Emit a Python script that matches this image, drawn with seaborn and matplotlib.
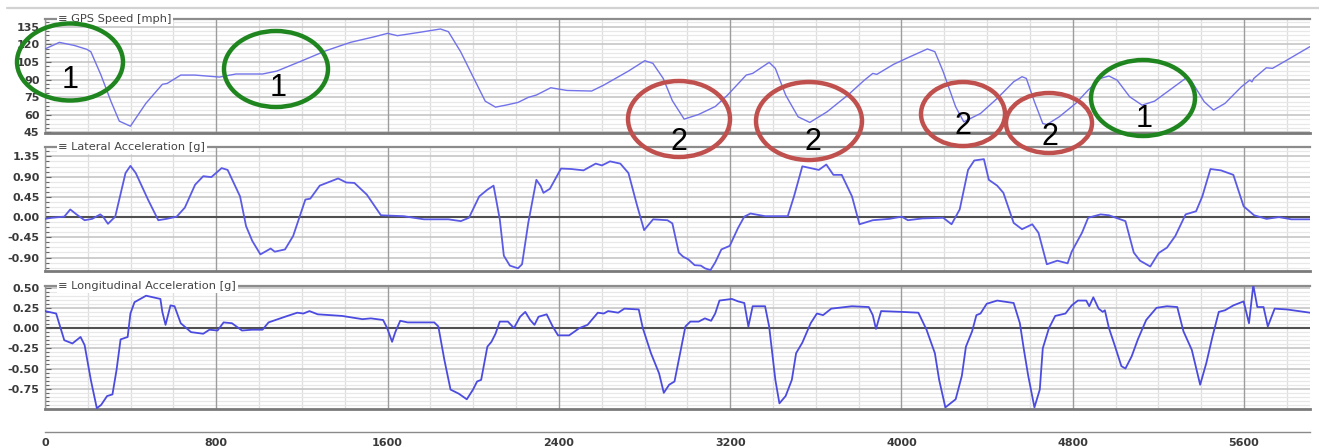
import matplotlib
matplotlib.use("Agg")
import matplotlib.pyplot as plt
from matplotlib.patches import Ellipse
from matplotlib.lines import Line2D
from matplotlib.ticker import MultipleLocator, FixedLocator
import seaborn as sns

# ---------------- data ----------------
speed_dist = [0, 67, 137, 195, 214, 261, 309, 347, 399, 471, 548, 571, 634, 700, 815, 892,
              1016, 1083, 1197, 1312, 1426, 1541, 1600, 1646, 1751, 1847, 1884, 1941, 1999,
              2056, 2104, 2152, 2209, 2257, 2295, 2362, 2438, 2553, 2610, 2725, 2801, 2839,
              2887, 2930, 2985, 3053, 3131, 3188, 3275, 3305, 3382, 3411, 3459, 3517, 3572,
              3653, 3750, 3827, 3866, 3885, 3963, 4040, 4121, 4156, 4195, 4253, 4291, 4369,
              4447, 4524, 4563, 4583, 4621, 4660, 4679, 4737, 4814, 4872, 4930, 4969, 5007,
              5066, 5124, 5182, 5259, 5327, 5356, 5414, 5457, 5511, 5588, 5627, 5637, 5646,
              5704, 5733, 5801, 5908]
speed_mph = [116, 121.6, 119, 115.7, 113.7, 94, 71, 54.6, 50.3, 69.7, 85.9, 86.7, 93.8, 93.8,
             92.1, 94.7, 94.7, 97.2, 105.7, 114.5, 121.6, 126.5, 129.3, 127.3, 130.2, 133,
             130.7, 113.7, 92.4, 71.6, 66.5, 68.2, 70.5, 74.8, 76.8, 83, 80.7, 80.2, 85.3,
             97.2, 106, 103.8, 91, 72, 56.3, 60.3, 67.1, 76.8, 93.8, 95.2, 104.6, 99.5, 76.8,
             58.3, 53.5, 62.6, 76.8, 89.5, 95.2, 94.4, 102.9, 109.4, 116, 113.7, 96.6, 66.8,
             54, 61.1, 73.9, 88.1, 92.4, 91, 71.1, 52.6, 51.7, 58.3, 69.7, 81, 91, 93, 89.5,
             75.3, 68.2, 71.6, 81.9, 91, 88.1, 71.1, 64, 69.7, 83.9, 89.5, 88, 91, 100, 99.5,
             106.6, 118]

lat_dist = [0, 32, 90, 118, 147, 185, 220, 258, 271, 294, 328, 347, 376, 399, 424, 481, 529,
            567, 615, 653, 701, 739, 777, 825, 853, 911, 939, 968, 1006, 1054, 1073, 1121,
            1159, 1188, 1216, 1239, 1283, 1369, 1407, 1445, 1503, 1569, 1675, 1770, 1884,
            1942, 1980, 2028, 2066, 2095, 2124, 2143, 2171, 2209, 2228, 2257, 2295, 2315,
            2328, 2358, 2410, 2458, 2515, 2572, 2601, 2639, 2687, 2725, 2764, 2798, 2840,
            2907, 2930, 2960, 2980, 3004, 3034, 3063, 3082, 3108, 3130, 3159, 3198, 3237,
            3266, 3295, 3363, 3469, 3498, 3537, 3576, 3614, 3649, 3682, 3721, 3769, 3804,
            3866, 3943, 4001, 4030, 4098, 4195, 4234, 4272, 4311, 4340, 4385, 4408, 4447,
            4476, 4524, 4563, 4611, 4640, 4679, 4728, 4776, 4795, 4843, 4872, 4930, 4969,
            5046, 5085, 5114, 5162, 5201, 5240, 5279, 5327, 5376, 5405, 5443, 5492, 5550,
            5598, 5647, 5705, 5763, 5821, 5908]
lat_g = [-0.04, -0.015, 0.01, 0.17, 0.06, -0.07, -0.04, 0.06, 0.01, -0.15, 0.01, 0.39, 0.98,
         1.14, 0.98, 0.39, -0.07, -0.04, 0.01, 0.21, 0.72, 0.91, 0.89, 1.09, 1.05, 0.46, -0.20,
         -0.53, -0.83, -0.70, -0.77, -0.72, -0.42, -0.01, 0.39, 0.41, 0.70, 0.86, 0.77, 0.76,
         0.50, 0.04, 0.02, -0.05, -0.05, -0.09, -0.015, 0.46, 0.61, 0.70, -0.05, -0.86, -1.08,
         -1.14, -1.05, -0.13, 0.83, 0.69, 0.54, 0.63, 1.08, 1.07, 1.04, 1.19, 1.15, 1.24, 1.19,
         0.98, 0.28, -0.29, -0.05, -0.07, -0.14, -0.79, -0.88, -0.94, -1.07, -1.08, -1.14,
         -1.18, -1.01, -0.72, -0.64, -0.24, 0.01, 0.08, 0.02, 0.02, 0.46, 1.13, 1.09, 1.05,
         1.17, 0.94, 0.94, 0.46, -0.16, -0.07, -0.04, 0.01, -0.07, -0.03, -0.015, -0.16, 0.17,
         1.05, 1.26, 1.29, 0.83, 0.70, 0.54, -0.13, -0.27, -0.16, -0.35, -1.05, -0.97, -1.03,
         -0.77, -0.35, -0.015, 0.06, 0.04, -0.09, -0.79, -0.97, -1.10, -0.80, -0.68, -0.42,
         0.06, 0.13, 0.46, 1.07, 1.04, 0.94, 0.24, 0.04, -0.04, 0.0, -0.05, -0.05]

lon_dist = [0, 52, 90, 128, 166, 185, 214, 242, 262, 290, 315, 334, 353, 386, 399, 418, 472,
            539, 548, 563, 586, 605, 634, 682, 739, 768, 806, 834, 873, 920, 968, 1016, 1044,
            1121, 1178, 1207, 1235, 1274, 1388, 1483, 1522, 1579, 1598, 1621, 1636, 1659,
            1694, 1818, 1837, 1865, 1894, 1932, 1970, 1999, 2018, 2037, 2066, 2085, 2104,
            2124, 2162, 2190, 2219, 2243, 2266, 2286, 2305, 2343, 2371, 2396, 2448, 2496,
            2534, 2582, 2610, 2630, 2677, 2706, 2773, 2792, 2830, 2868, 2890, 2915, 2940,
            2966, 2991, 3014, 3053, 3082, 3111, 3130, 3150, 3208, 3237, 3266, 3285, 3305,
            3363, 3382, 3411, 3430, 3459, 3488, 3508, 3537, 3576, 3605, 3634, 3672, 3769,
            3847, 3866, 3881, 3905, 4001, 4079, 4117, 4156, 4176, 4205, 4253, 4282, 4301,
            4330, 4350, 4369, 4398, 4447, 4524, 4553, 4572, 4592, 4621, 4646, 4660, 4689,
            4718, 4766, 4795, 4824, 4863, 4877, 4896, 4921, 4940, 4950, 4969, 4998, 5027,
            5046, 5075, 5104, 5143, 5191, 5240, 5288, 5317, 5356, 5395, 5424, 5453, 5482,
            5511, 5550, 5598, 5623, 5643, 5662, 5691, 5711, 5743, 5801, 5908]
lon_g = [0.21, 0.18, -0.15, -0.19, -0.11, -0.21, -0.64, -0.99, -0.95, -0.84, -0.82, -0.52,
         -0.14, -0.11, 0.18, 0.32, 0.40, 0.36, 0.20, 0.04, 0.28, 0.27, 0.06, -0.05, -0.07,
         -0.02, -0.03, 0.07, 0.06, -0.03, -0.02, -0.02, 0.07, 0.14, 0.19, 0.18, 0.21, 0.17,
         0.15, 0.11, 0.12, 0.10, 0.0, -0.17, -0.05, 0.09, 0.07, 0.07, 0.02, -0.39, -0.76,
         -0.81, -0.88, -0.76, -0.66, -0.64, -0.23, -0.17, -0.07, 0.08, 0.08, 0.0, 0.14, 0.20,
         0.10, 0.04, 0.14, 0.17, 0.02, -0.09, -0.09, 0.0, 0.04, 0.19, 0.18, 0.21, 0.19, 0.24,
         0.23, 0.0, -0.31, -0.56, -0.80, -0.70, -0.66, -0.31, 0.02, 0.08, 0.08, 0.12, 0.09,
         0.18, 0.34, 0.36, 0.33, 0.31, 0.02, 0.27, 0.27, 0.02, -0.64, -0.93, -0.84, -0.64,
         -0.31, -0.18, 0.06, 0.18, 0.16, 0.24, 0.27, 0.26, 0.16, -0.01, 0.21, 0.20, 0.19,
         -0.02, -0.31, -0.64, -0.98, -0.88, -0.59, -0.23, -0.04, 0.16, 0.18, 0.30, 0.34, 0.31,
         0.06, -0.27, -0.59, -0.98, -0.76, -0.25, 0.0, 0.15, 0.18, 0.28, 0.34, 0.34, 0.27,
         0.38, 0.24, 0.20, 0.22, 0.0, -0.23, -0.47, -0.50, -0.35, -0.14, 0.10, 0.25, 0.27,
         0.26, -0.04, -0.27, -0.70, -0.43, -0.10, 0.20, 0.22, 0.28, 0.33, 0.06, 0.53, 0.26,
         0.26, 0.02, 0.24, 0.23, 0.19]

speed_ticks = [45, 60, 75, 90, 105, 120, 135]
lat_ticks = [-0.90, -0.45, 0.00, 0.45, 0.90, 1.35]
lon_ticks = [-0.75, -0.50, -0.25, 0.00, 0.25, 0.50]
dist_ticks = [0, 800, 1600, 2400, 3200, 4000, 4800, 5600]

# ---------------- figure ----------------
sns.set_theme(style="white")
plt.rcParams["font.family"] = ["DejaVu Sans"]

W, H = 1319, 446
fig = plt.figure(figsize=(W / 100, H / 100), dpi=100)
fig.patch.set_facecolor("white")


def px_rect(x0, y0, x1, y1):
    return [x0 / W, 1 - y1 / H, (x1 - x0) / W, (y1 - y0) / H]


X_MAX = 5908
ax_speed = fig.add_axes(px_rect(45, 19, 1310, 133))
ax_lat = fig.add_axes(px_rect(45, 147, 1310, 271))
ax_lon = fig.add_axes(px_rect(45, 286, 1310, 409))
ax_x = fig.add_axes(px_rect(45, 431, 1310, 432))

TICK_FONT = dict(fontsize=8, fontweight="bold", color="#3a3a3a")


def style_panel(ax, ylim, ticks, fmt, minor_step, title, zero_line):
    ax.set_xlim(0, X_MAX)
    ax.set_ylim(*ylim)
    ax.xaxis.set_major_locator(MultipleLocator(800))
    ax.xaxis.set_minor_locator(MultipleLocator(200))
    ax.yaxis.set_major_locator(FixedLocator(ticks))
    ax.yaxis.set_minor_locator(MultipleLocator(minor_step))
    ax.set_yticklabels([fmt.format(t) for t in ticks], **TICK_FONT)
    ax.grid(which="minor", axis="x", color="#dedede", lw=0.9)
    ax.grid(which="major", axis="y", color="#c6c6c6", lw=1.2)
    ax.grid(which="minor", axis="y", color="#e8e8e8", lw=0.9)
    ax.set_axisbelow(True)
    # major distance lines sit above the horizontal grid so they stay unbroken
    for t in dist_ticks:
        ax.axvline(t, color="#9c9c9c", lw=1.0, zorder=1)
    ax.tick_params(axis="x", which="both", bottom=False, labelbottom=False)
    ax.tick_params(axis="y", which="both", left=True, direction="in",
                   length=3, width=0.8, color="#666666", pad=4)
    ax.tick_params(axis="y", which="major", length=4)
    ax.spines["right"].set_visible(False)
    ax.spines["top"].set_color("#8c8c8c")
    ax.spines["top"].set_linewidth(1.6)
    ax.spines["bottom"].set_color("#7a7a7a")
    ax.spines["bottom"].set_linewidth(2.0)
    ax.spines["left"].set_color("#9a9a9a")
    ax.spines["left"].set_linewidth(1.0)
    ax.set_xlabel("")
    ax.set_ylabel("")
    if zero_line:
        ax.axhline(0, color="#505050", lw=1.5, zorder=1.5)
    ax.text(0.0105, 1.0, "\u2261 " + title, transform=ax.transAxes, ha="left",
            va="center", fontsize=8.2, color="#444444", zorder=5, clip_on=False,
            bbox=dict(facecolor="white", edgecolor="none", pad=1.2))


sns.lineplot(x=speed_dist, y=speed_mph, ax=ax_speed, color="#7272ea",
             linewidth=1.0, estimator=None, zorder=3)
sns.lineplot(x=lat_dist, y=lat_g, ax=ax_lat, color="#5a5ae6",
             linewidth=1.3, estimator=None, zorder=3)
sns.lineplot(x=lon_dist, y=lon_g, ax=ax_lon, color="#4b4be0",
             linewidth=1.3, estimator=None, zorder=3)

style_panel(ax_speed, (44.5, 141.5), speed_ticks, "{:.0f}", 3.75,
            "GPS Speed [mph]", False)
style_panel(ax_lat, (-1.2, 1.56), lat_ticks, "{:.2f}", 0.1125,
            "Lateral Acceleration [g]", True)
style_panel(ax_lon, (-1.0, 0.52), lon_ticks, "{:.2f}", 0.05,
            "Longitudinal Acceleration [g]", True)

# shared distance axis drawn on its own strip below the panels
ax_x.set_xlim(0, X_MAX)
ax_x.set_ylim(0, 1)
ax_x.set_facecolor("none")
for side in ("left", "right", "top"):
    ax_x.spines[side].set_visible(False)
ax_x.spines["bottom"].set_color("#8a8a8a")
ax_x.spines["bottom"].set_linewidth(1.0)
ax_x.xaxis.set_major_locator(FixedLocator(dist_ticks))
ax_x.xaxis.set_minor_locator(MultipleLocator(200))
ax_x.set_xticklabels([str(t) for t in dist_ticks], **TICK_FONT)
ax_x.set_yticks([])
ax_x.tick_params(axis="x", which="major", direction="inout", length=7,
                 width=1.0, color="#777777", pad=1)
ax_x.tick_params(axis="x", which="minor", direction="out", length=2.5,
                 width=1.0, color="#777777")

# thin header rule across the top
fig.add_artist(Line2D([7 / W, 1.0], [1 - 8 / H, 1 - 8 / H], transform=fig.transFigure,
                      color="#d2d2d2", lw=1.6))

# highlighted corners: 1 = green, 2 = red
GREEN = "#1f861f"
RED = "#c0504d"
rings = [
    (70, 62, 106, 77, GREEN, "1", 70, 80),
    (276, 69, 104, 76, GREEN, "1", 278, 88),
    (679, 119, 102, 76, RED, "2", 679, 142),
    (809, 121, 106, 78, RED, "2", 813, 142),
    (963, 114, 84, 64, RED, "2", 963, 126),
    (1049, 123, 86, 60, RED, "2", 1050, 137),
    (1143, 98, 104, 76, GREEN, "1", 1144, 119),
]
for cx, cy, w, h, col, label, tx, ty in rings:
    fig.add_artist(Ellipse((cx / W, 1 - cy / H), w / W, h / H, transform=fig.transFigure,
                           fill=False, edgecolor=col, linewidth=3.2, zorder=10))
    fig.text(tx / W, 1 - ty / H, label, ha="center", va="center", fontsize=22,
             family=["Liberation Sans", "DejaVu Sans"], color="black", zorder=11)

fig.savefig("out.png", dpi=100, facecolor="white")
